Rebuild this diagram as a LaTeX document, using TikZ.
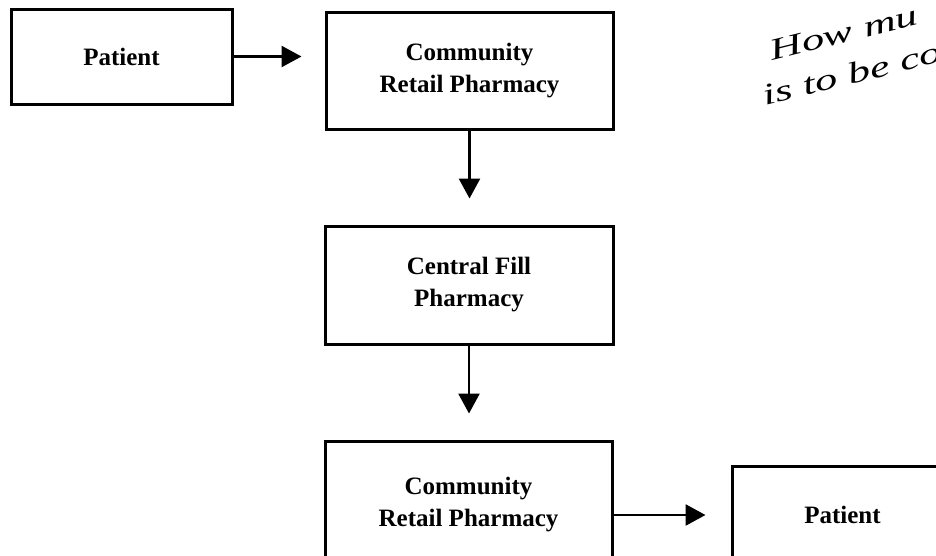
\documentclass[tikz,border=0pt]{standalone}
\usepackage{fontspec}
\setmainfont{Liberation Serif}
\usetikzlibrary{arrows.meta}

\tikzset{
  flowbox/.style={draw, line width=3pt, inner sep=0pt, align=center,
    font=\fontsize{25}{32}\selectfont\bfseries},
  flow/.style={-{Triangle[length=20pt,width=21pt]}, line width=2.6pt},
  scribble/.style={font=\fontsize{30}{42}\selectfont\itshape, inner sep=0pt,
    align=left, rotate=14, xscale=1.5},
}

\begin{document}
\begin{tikzpicture}[x=1pt, y=-1pt]
\useasboundingbox (0,0) rectangle (936,555);
\clip (0,0) rectangle (936,555);

% top row
\node[flowbox, minimum width=221pt, minimum height=95pt] (pat1) at (121.5,56.5) {Patient};
\node[flowbox, minimum width=287pt, minimum height=117pt] (crp1) at (469.5,70.5)
  {Community\\Retail Pharmacy};

% middle
\node[flowbox, minimum width=288pt, minimum height=118pt] (cfp) at (469,285)
  {Central Fill\\Pharmacy};

% bottom row, cut off by the page edge
\node[flowbox, minimum width=287pt, minimum height=128pt] (crp2) at (468.5,505)
  {Community\\Retail Pharmacy};
\node[flowbox, minimum width=221pt, minimum height=98pt] (pat2) at (842.5,515) {Patient};

% arrows
\draw[flow, shorten >=23pt] (pat1.east) -- (pat1.east -| crp1.west);
\draw[flow, shorten >=26pt] (crp1.south) -- (crp1.south |- cfp.north);
\draw[flow, shorten >=26pt] (cfp.south) -- (cfp.south |- crp2.north);
\draw[flow, shorten >=25pt] (pat2.west -| crp2.east) -- (pat2.west);

% handwritten note, top right
\node[scribble, anchor=base west] (note) at (765,106)
  {\rule{12pt}{0pt}How mu\\is to be co};
\end{tikzpicture}
\end{document}
